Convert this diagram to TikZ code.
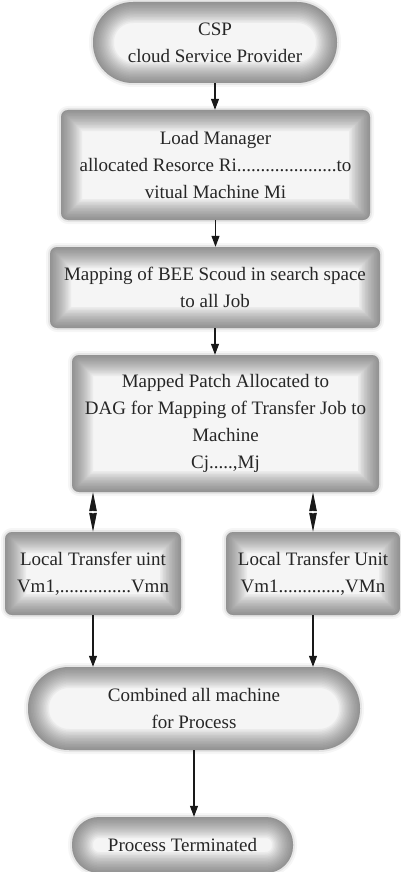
\documentclass[tikz,border=0pt]{standalone}
\usepackage{fontspec}
\setmainfont{Liberation Serif}
\usetikzlibrary{arrows.meta}

\begin{document}
\begin{tikzpicture}[x=1pt,y=-1pt,line join=round,
  % bevelled grey panel, #1 = corner radius
  panel/.style={draw=none, fill=black!4, align=center, text=black!85,
    font=\fontsize{19}{27}\selectfont, inner sep=0pt, rounded corners=#1,
    preaction={draw=black!45, line width=8pt, opacity=0.08},
    preaction={draw=black!45, line width=4pt, opacity=0.15},
    path picture={
      \foreach \w in {3,6,...,42}
        \draw[black!70, line width=\w pt, opacity=0.055, rounded corners=#1]
          (path picture bounding box.south west) rectangle (path picture bounding box.north east);
    }},
  panel/.default=7pt,
  flow/.style={-{Triangle[length=11pt,width=8pt]}, line width=1.1pt, black!90},
  link/.style={{Stealth[length=19pt,width=7.5pt,inset=0pt]}-{Stealth[length=19pt,width=7.5pt,inset=0pt]}, line width=1pt, black!90},
  hole/.style={circle, fill=white, inner sep=0pt, minimum size=3pt},
]

% ===== 画布 =====
\useasboundingbox (0,0) rectangle (401,872);

% ===== 方框 =====
\node[panel=40pt, minimum width=244pt, minimum height=81pt] (csp) at (215,42.5)
  {CSP\\cloud Service Provider};
\node[panel, minimum width=309pt, minimum height=110pt] (lm) at (215.5,165)
  {Load Manager\\allocated Resorce Ri.....................to\\vitual Machine Mi};
\node[panel, minimum width=330pt, minimum height=81pt] (scout) at (215,287.5)
  {Mapping of BEE Scoud in search space\\to all Job};
\node[panel, minimum width=307pt, minimum height=137pt] (dag) at (225.5,423.5)
  {Mapped Patch Allocated to\\DAG for Mapping of Transfer Job to\\Machine\\Cj.....,Mj};
\node[panel, minimum width=176pt, minimum height=83pt] (ltu1) at (93,573.5)
  {Local Transfer uint\\Vm1,...............Vmn};
\node[panel, minimum width=174pt, minimum height=83pt] (ltu2) at (313,573.5)
  {Local Transfer Unit\\Vm1.............,VMn};
\node[panel=41pt, minimum width=332pt, minimum height=83pt] (comb) at (194,708.5)
  {Combined all machine\\for Process};
\node[panel=27pt, minimum width=221pt, minimum height=56pt] (term) at (182.5,845)
  {Process Terminated};

% ===== 连线 =====
\draw[flow] (csp.south) -- (csp.south |- lm.north);
\draw[flow] (lm.south) -- (lm.south |- scout.north);
\draw[flow] (scout.south) -- (scout.south |- dag.north);

% 双向(菱形)连线
\draw[link] (ltu1.north |- dag.south) -- (ltu1.north) node[midway,hole] (h1) {};
\draw[link] (ltu2.north |- dag.south) -- (ltu2.north) node[midway,hole] (h2) {};

\draw[flow] (ltu1.south) -- (ltu1.south |- comb.north);
\draw[flow] (ltu2.south) -- (ltu2.south |- comb.north);
\draw[flow] (comb.south) -- (comb.south |- term.north);

\end{tikzpicture}
\end{document}
